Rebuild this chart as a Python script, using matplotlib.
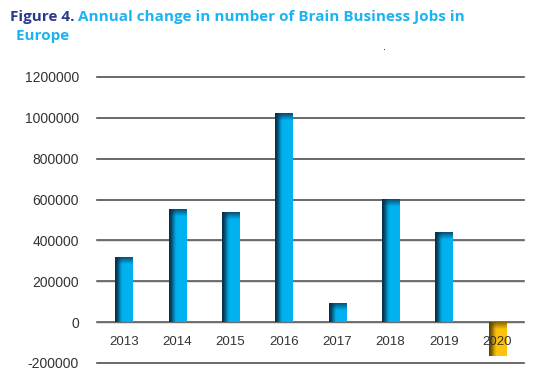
import numpy as np
import matplotlib
matplotlib.use("Agg")
import matplotlib.pyplot as plt
from matplotlib.colors import to_rgb

years = ["2013", "2014", "2015", "2016", "2017", "2018", "2019", "2020"]
changes = [315000, 552000, 536000, 1020000, 92000, 598000, 440000, -165000]
yticks = [-200000, 0, 200000, 400000, 600000, 800000, 1000000, 1200000]

W, H = 550, 372
fig = plt.figure(figsize=(W / 100, H / 100), dpi=100)
ax = fig.add_axes([97 / W, 1 - 363 / H, (524 - 97) / W, (363 - 77) / H])

x = np.arange(len(years))
bars = ax.bar(x, changes, width=0.32, color="none", edgecolor="none", zorder=3)
ax.set_xlim(-0.5, len(years) - 0.5)
ax.set_ylim(-200000, 1200000)

px_per_unit = (363 - 77) / 1400000.0


def bar_image(value, bright, dark, ncols=60, nrows=200):
    bright = np.array(to_rgb(bright))
    dark = np.array(to_rgb(dark))
    t = np.linspace(0, 1, ncols)
    s = np.clip(t / 0.45, 0, 1)
    s = s * s * (3 - 2 * s)
    row = dark[None, :] + (bright - dark)[None, :] * s[:, None]
    img = np.repeat(row[None, :, :], nrows, axis=0)
    height_px = abs(value) * px_per_unit
    # distance from top (for positive) / from zero line (for negative) in px
    d = np.linspace(0, height_px, nrows)
    amt = np.clip(1 - d / 7.0, 0, 1) * 0.75
    img = img * (1 - amt[:, None, None]) + dark[None, None, :] * amt[:, None, None]
    return img


for b, v in zip(bars, changes):
    x0 = b.get_x()
    x1 = x0 + b.get_width()
    if v >= 0:
        img = bar_image(v, "#00b2f0", "#08304a")
        # row 0 is top in origin='upper'
        ax.imshow(img, extent=(x0, x1, 0, v), origin="upper", aspect="auto",
                  zorder=3, interpolation="bilinear")
    else:
        img = bar_image(v, "#ffc20a", "#5e4700")
        ax.imshow(img, extent=(x0, x1, v, 0), origin="upper", aspect="auto",
                  zorder=3, interpolation="bilinear")

ax.set_xlim(-0.5, len(years) - 0.5)
ax.set_ylim(-200000, 1200000)

# gridlines with a light shadow
for yv in yticks:
    ax.axhline(yv - 2200, color="#d9d9d9", lw=1.2, zorder=1, clip_on=False)
    ax.axhline(yv, color="#4a4a4a", lw=1.1, zorder=2, clip_on=False)

for sp in ax.spines.values():
    sp.set_visible(False)

ax.set_yticks(yticks)
ax.set_yticklabels([str(v) for v in yticks], fontsize=10, color="#333333",
                   family="Liberation Sans")
ax.tick_params(axis="y", length=0, pad=13)

ax.set_xticks(x)
ax.set_xticklabels([])
for xi, lab in zip(x, years):
    ax.annotate(lab, xy=(xi, 0), xycoords="data", xytext=(0, -20),
                textcoords="offset pixels", ha="center", va="center",
                fontsize=9.5, color="#333333", family="Liberation Sans",
                zorder=5, annotation_clip=False)
ax.tick_params(axis="x", length=0)

# title
t1 = fig.text(10 / W, 1 - 21 / H, "Figure 4.", fontsize=11, fontweight="bold",
              color="#2b3a8c", family="Open Sans", va="baseline", ha="left")
ax.annotate(" Annual change in number of Brain Business Jobs in",
            xy=(1, 0), xycoords=t1, va="bottom", ha="left", fontsize=11,
            fontweight="bold", color="#1bb3f0", family="Open Sans",
            annotation_clip=False)
fig.text(12 / W, 1 - 40 / H, " Europe", fontsize=11, fontweight="bold",
         color="#1bb3f0", family="Open Sans", va="baseline", ha="left")
fig.text(385 / W, 1 - 50 / H, ".", fontsize=7, color="#222222", ha="center")

fig.savefig("out.png", dpi=100)
